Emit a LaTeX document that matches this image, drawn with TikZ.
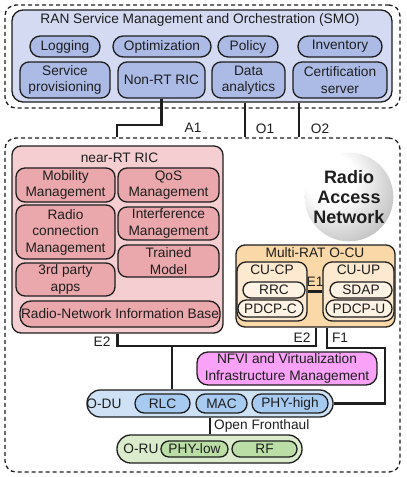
\documentclass[tikz,border=0pt]{standalone}
\usepackage{fontspec}
\setmainfont{Liberation Sans}
\usetikzlibrary{calc}
\definecolor{smofill}{RGB}{212,218,242}
\definecolor{smopill}{RGB}{172,187,230}
\definecolor{ricfill}{RGB}{244,206,208}
\definecolor{ricin}{RGB}{234,168,172}
\definecolor{ocufill}{RGB}{250,216,168}
\definecolor{cufill}{RGB}{253,232,208}
\definecolor{cupill}{RGB}{254,242,228}
\definecolor{nfvifill}{RGB}{249,162,247}
\definecolor{dufill}{RGB}{207,226,245}
\definecolor{dupill}{RGB}{166,202,240}
\definecolor{rufill}{RGB}{218,236,204}
\definecolor{rupill}{RGB}{186,222,166}
\definecolor{ink}{RGB}{30,30,30}
\pgfdeclareradialshading{ransphere}{\pgfpoint{-12bp}{12bp}}{color(0bp)=(white); color(14bp)=(white); color(40bp)=(black!28); color(55bp)=(black!45); color(100bp)=(black!45)}
\begin{document}
\begin{tikzpicture}[x=1pt,y=-1pt,
  every node/.style={font=\fontsize{13.7}{16.5}\selectfont, text=ink, align=center, inner sep=0pt},
  rb/.style 2 args={draw=ink, line width=1.3pt, rounded corners=9pt, minimum width=#1pt, minimum height=#2pt},
  pill/.style 2 args={draw=ink, line width=1.3pt, rounded corners={0.49*#2pt}, minimum width=#1pt, minimum height=#2pt},
  zone/.style 2 args={draw=ink, line width=1.3pt, dash pattern=on 4pt off 3pt, rounded corners=11pt, minimum width=#1pt, minimum height=#2pt},
  conn/.style={draw=ink, line width=2.3pt},
  lbl/.style={fill=none}
]
\useasboundingbox (0,0) rectangle (407,477);

% zones
\node[zone={395}{103}] (smozone) at (202.5,56.5) {};
\node[zone={395}{334}] (ranzone) at (202.5,305) {};

% SMO
\node[rb={380}{92}, fill=smofill, rounded corners=11pt] (smo) at (202,56) {};
\node (smotitle) at (200,20) {RAN Service Management and Orchestration (SMO)};
\node[pill={70}{21}, fill=smopill] (logging) at (65,46.5) {Logging};
\node[pill={98}{21}, fill=smopill] (optim) at (162,46.5) {Optimization};
\node[pill={60}{21}, fill=smopill] (policy) at (248,46.5) {Policy};
\node[pill={84}{21}, fill=smopill] (inventory) at (340,46.5) {Inventory};
\node[rb={90}{36}, fill=smopill] (servprov) at (65,80) {Service\\provisioning};
\node[rb={87}{36}, fill=smopill] (nonrt) at (161.5,80) {Non-RT RIC};
\node[rb={73}{36}, fill=smopill] (dataan) at (248.5,80) {Data\\analytics};
\node[rb={94}{36}, fill=smopill] (certif) at (340,80) {Certification\\server};

% near-RT RIC
\node[rb={211}{187}, fill=ricfill] (ric) at (117.5,239.5) {};
\node (rictitle) at (119.5,158) {near-RT RIC};
\node[rb={99}{34}, fill=ricin] (mobility) at (65.5,185) {Mobility\\Management};
\node[rb={101}{34}, fill=ricin] (qos) at (168.5,185) {QoS\\Management};
\node[rb={99}{54}, fill=ricin] (radioconn) at (65.5,232) {Radio\\connection\\Management};
\node[rb={101}{33}, fill=ricin] (interf) at (168.5,223.5) {Interference\\Management};
\node[rb={101}{32}, fill=ricin] (trained) at (168.5,261) {Trained\\Model};
\node[rb={99}{33}, fill=ricin] (thirdparty) at (65.5,279.5) {3rd party\\apps};
\node[rb={200}{26}, fill=ricin, rounded corners=11pt] (rnib) at (120,314) {Radio-Network Information Base};

% Radio access network sphere
\node[circle, minimum size=84pt, shading=ransphere, font=\bfseries\fontsize{18}{20}\selectfont] (ranball) at (349,197) {Radio\\Access\\Network};

% O-CU
\node[rb={159}{82}, fill=ocufill] (ocu) at (315.5,286) {};
\node (ocutitle) at (315,253) {Multi-RAT O-CU};
\node[rb={70}{59}, fill=cufill] (cucp) at (272,291.5) {};
\node (cucptitle) at (272,270) {CU-CP};
\node[pill={62}{16}, fill=cupill] (rrc) at (274,290) {RRC};
\node[pill={65}{17}, fill=cupill] (pdcpc) at (270.5,308.5) {PDCP-C};
\node[rb={71}{59}, fill=cufill] (cuup) at (358.5,291.5) {};
\node (cuuptitle) at (358.5,270) {CU-UP};
\node[pill={62}{16}, fill=cupill] (sdap) at (361,290) {SDAP};
\node[pill={66}{17}, fill=cupill] (pdcpu) at (359,308.5) {PDCP-U};
\draw[conn] (cucp.east) -- (cuup.west);
\node (e1lbl) at (315,282) {E1};

% NFVI
\node[rb={180}{33}, fill=nfvifill, rounded corners=11pt] (nfvi) at (287,368.5) {NFVI and Virtualization\\Infrastructure Management};

% O-DU
\node[pill={246}{27}, fill=dufill] (odu) at (210,403.5) {};
\node (odulbl) at (104,403.5) {O-DU};
\node[pill={55}{19}, fill=dupill] (rlc) at (162.5,403.5) {RLC};
\node[pill={51}{19}, fill=dupill] (mac) at (221.5,403.5) {MAC};
\node[pill={76}{19}, fill=dupill] (phyhigh) at (290,403.5) {PHY-high};

% O-RU
\node[pill={185}{28}, fill=rufill] (oru) at (209.5,449) {};
\node (orulbl) at (141,449) {O-RU};
\node[pill={67}{16}, fill=rupill] (phylow) at (194.5,449) {PHY-low};
\node[pill={65}{16}, fill=rupill] (rf) at (264.5,449) {RF};

% connectors
\coordinate (a1b) at (117,125);
\draw[conn] (nonrt.south) |- (a1b) -- (ranzone.north -| a1b);
\node (a1lbl) at (193,128) {A1};
\coordinate (o1) at (245,120);
\draw[conn] (smo.south -| o1) -- (ranzone.north -| o1);
\node (o1lbl) at (265,129) {O1};
\coordinate (o2) at (299,120);
\draw[conn] (smo.south -| o2) -- (ranzone.north -| o2);
\node (o2lbl) at (320,129) {O2};

\coordinate (e2h) at (316,346);
\draw[conn] (ric.south) |- (e2h) -- (ocu.south -| e2h);
\coordinate (e2d) at (172,346);
\draw[conn] (e2d) -- (odu.north -| e2d);
\node (e2llbl) at (102,342) {E2};
\node (e2rlbl) at (302,338) {E2};
\coordinate (f1a) at (327,348);
\coordinate (f1b) at (385,348);
\draw[conn] (ocu.south -| f1a) -- (f1a) -- (f1b) |- (odu.east);
\node (f1lbl) at (340,338) {F1};

\coordinate (fh) at (210,425);
\draw[conn] (odu.south -| fh) -- (oru.north -| fh);
\node[anchor=west] (fhlbl) at (214,426) {Open Fronthaul};
\end{tikzpicture}
\end{document}
